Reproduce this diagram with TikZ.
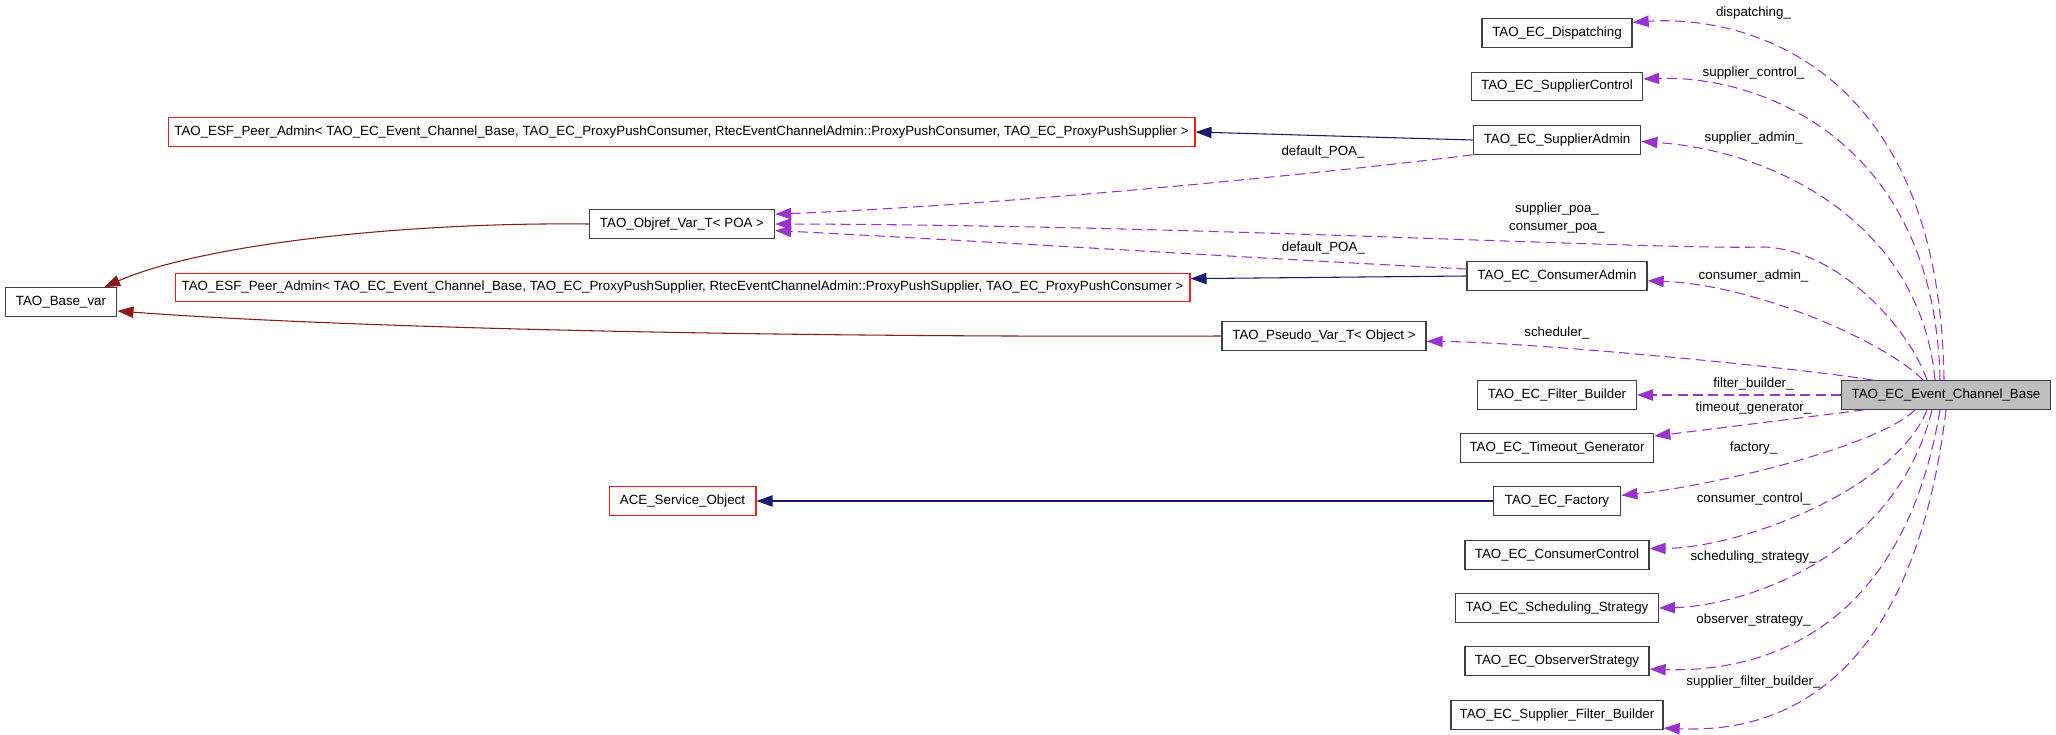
\documentclass[tikz,border=0pt]{standalone}
\usepackage{fontspec}
\setmainfont{Liberation Sans}
\usetikzlibrary{arrows.meta,calc}

\definecolor{boxgray}{RGB}{64,64,64}
\definecolor{inhblue}{RGB}{25,25,112}
\definecolor{varred}{RGB}{139,26,26}
\definecolor{usepurple}{RGB}{154,50,205}
\definecolor{basefill}{RGB}{191,191,191}

\begin{document}
\begin{tikzpicture}[x=0.75pt,y=-0.75pt,font=\fontsize{10}{13.5}\selectfont,
  cls/.style={draw=boxgray,line width=1pt,fill=white,minimum height=21.3pt,inner xsep=2pt,inner ysep=0pt},
  extcls/.style={cls,draw=red!90!white},
  inh/.style={draw=inhblue,line width=0.8pt,-{Triangle[length=12pt,width=8.5pt]}},
  varinh/.style={inh,draw=varred},
  uses/.style={draw=usepurple,line width=0.8pt,dash pattern=on 7.5pt off 4pt,-{Triangle[length=12pt,width=8.5pt]}},
  lbl/.style={inner sep=0pt,align=center}]

\useasboundingbox (0,0) rectangle (2056,735);

% left part
\node[cls,minimum width=83.7pt] (base) at (61,302) {TAO\_Base\_var};
\node[extcls,minimum width=770pt] (esfcons) at (681.5,132) {TAO\_ESF\_Peer\_Admin< TAO\_EC\_Event\_Channel\_Base, TAO\_EC\_ProxyPushConsumer, RtecEventChannelAdmin::ProxyPushConsumer, TAO\_EC\_ProxyPushSupplier >};
\node[cls,minimum width=138.75pt] (objref) at (682,224) {TAO\_Objref\_Var\_T< POA >};
\node[extcls,minimum width=761pt] (esfsupp) at (682.5,287.5) {TAO\_ESF\_Peer\_Admin< TAO\_EC\_Event\_Channel\_Base, TAO\_EC\_ProxyPushSupplier, RtecEventChannelAdmin::ProxyPushSupplier, TAO\_EC\_ProxyPushConsumer >};
\node[cls,minimum width=153pt] (pseudo) at (1324,336) {TAO\_Pseudo\_Var\_T< Object >};
\node[extcls,minimum width=110pt] (ace) at (682.5,501) {ACE\_Service\_Object};

% members
\node[cls,minimum width=112.5pt] (dispatching) at (1557,33) {TAO\_EC\_Dispatching};
\node[cls,minimum width=128.4pt] (supctrl) at (1557,86.5) {TAO\_EC\_SupplierControl};
\node[cls,minimum width=125.7pt] (supadmin) at (1557,140) {TAO\_EC\_SupplierAdmin};
\node[cls,minimum width=135pt] (conadmin) at (1557,276) {TAO\_EC\_ConsumerAdmin};
\node[cls,minimum width=119pt] (filter) at (1557,395) {TAO\_EC\_Filter\_Builder};
\node[cls,minimum width=145pt] (timeout) at (1557,448) {TAO\_EC\_Timeout\_Generator};
\node[cls,minimum width=95.6pt] (factory) at (1557,501) {TAO\_EC\_Factory};
\node[cls,minimum width=138pt] (conctrl) at (1557,555) {TAO\_EC\_ConsumerControl};
\node[cls,minimum width=152pt] (sched) at (1557,608) {TAO\_EC\_Scheduling\_Strategy};
\node[cls,minimum width=138pt] (observer) at (1557,661) {TAO\_EC\_ObserverStrategy};
\node[cls,minimum width=159pt] (sfb) at (1557,715) {TAO\_EC\_Supplier\_Filter\_Builder};

\node[cls,fill=basefill,minimum width=156.5pt] (ecbase) at (1946,395) {TAO\_EC\_Event\_Channel\_Base};

% inheritance
\draw[varinh] (objref.west) .. controls (400,222) and (200,245) .. (base.19);
\draw[varinh] (pseudo.west) .. controls (700,338) and (300,325) .. (base.-9);
\draw[inh] (supadmin.west) -- (esfcons.-0.5);
\draw[inh] (conadmin.west) -- (esfsupp.1);
\draw[inh] (factory.west) -- (ace.east);

% usage
\draw[uses] ($(ecbase.north)+(-2,0)$) .. controls (1940,60) and (1740,15) .. (dispatching.8);
\draw[uses] ($(ecbase.north)+(-6,0)$) .. controls (1935,140) and (1760,75) .. (supctrl.5);
\draw[uses] ($(ecbase.north)+(-11,0)$) .. controls (1920,220) and (1770,150) .. (supadmin.-1);
\draw[uses] ($(ecbase.north)+(-19,0)$) .. controls (1910,330) and (1840,250) .. (1764,247)
  .. controls (1650,250) and (1200,225) .. (objref.east);
\draw[uses] (supadmin.south west) .. controls (1300,176) and (1000,205) .. (objref.6);
\draw[uses] ($(conadmin.west)+(0,-7)$) .. controls (1250,258) and (1000,242) .. (objref.-4);
\draw[uses] ($(ecbase.north)+(-23,0)$) .. controls (1890,345) and (1760,285) .. (conadmin.-3);
\draw[uses] ($(ecbase.north)+(-73,0)$) .. controls (1800,368) and (1530,342) .. (pseudo.-3);
\draw[uses] (ecbase.west) -- (filter.east);
\draw[uses] ($(ecbase.south)+(-82,0)$) .. controls (1800,418) and (1720,428) .. (timeout.7);
\draw[uses] ($(ecbase.south)+(-31,0)$) .. controls (1880,445) and (1720,485) .. (factory.5);
\draw[uses] ($(ecbase.south)+(-19,0)$) .. controls (1895,490) and (1740,548) .. (conctrl.4);
\draw[uses] ($(ecbase.south)+(-14,0)$) .. controls (1895,560) and (1740,606) .. (sched.east);
\draw[uses] ($(ecbase.south)+(-6,0)$) .. controls (1900,650) and (1740,672) .. (observer.-5);
\draw[uses] (ecbase.south) .. controls (1910,710) and (1755,732) .. (sfb.-7);

% labels
\node[lbl] (ldisp) at (1753.5,12.7) {dispatching\_};
\node[lbl] (lsupctrl) at (1753.5,72.7) {supplier\_control\_};
\node[lbl] (lsupadmin) at (1753.5,138.3) {supplier\_admin\_};
\node[lbl] (lpoaa) at (1323,152) {default\_POA\_};
\node[lbl] (lpoa) at (1557,218) {supplier\_poa\_\\consumer\_poa\_};
\node[lbl] (lpoab) at (1323.4,247.7) {default\_POA\_};
\node[lbl] (lconadmin) at (1753.5,275.7) {consumer\_admin\_};
\node[lbl] (lsched) at (1557,332.7) {scheduler\_};
\node[lbl] (lfilter) at (1753.5,384) {filter\_builder\_};
\node[lbl] (ltimeout) at (1753.5,407.7) {timeout\_generator\_};
\node[lbl] (lfactory) at (1753.5,447.7) {factory\_};
\node[lbl] (lconctrl) at (1753.5,499) {consumer\_control\_};
\node[lbl] (lschedstr) at (1753.5,556.7) {scheduling\_strategy\_};
\node[lbl] (lobserver) at (1753.5,620) {observer\_strategy\_};
\node[lbl] (lsfb) at (1753.5,681.7) {supplier\_filter\_builder\_};

\end{tikzpicture}
\end{document}
